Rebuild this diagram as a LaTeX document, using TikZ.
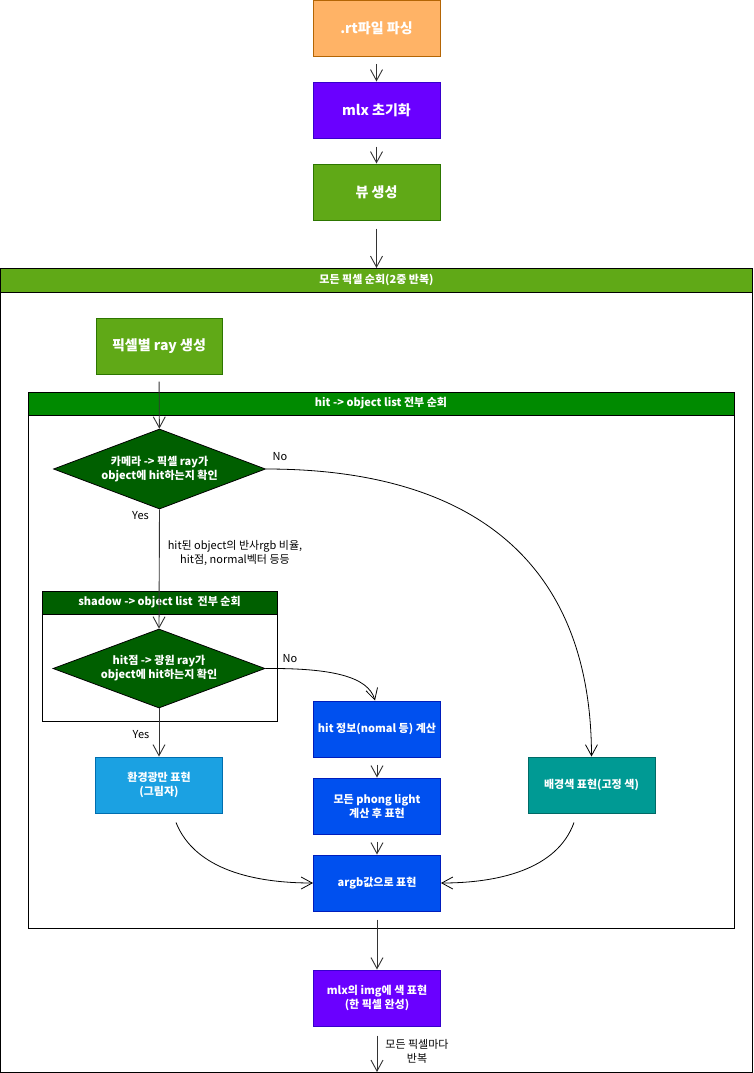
\documentclass[tikz,border=0pt]{standalone}
\usepackage{fontspec}
\setmainfont{Noto Sans CJK KR}
\usetikzlibrary{arrows.meta,shapes.geometric,calc}
\definecolor{cOrange}{HTML}{FFB366}
\definecolor{cOrangeB}{HTML}{B46504}
\definecolor{cPurple}{HTML}{6A00FF}
\definecolor{cPurpleB}{HTML}{3700CC}
\definecolor{cGreen}{HTML}{60A917}
\definecolor{cGreenB}{HTML}{2D7600}
\definecolor{cDGreen}{HTML}{008A00}
\definecolor{cDDGreen}{HTML}{005F00}
\definecolor{cLBlue}{HTML}{1BA1E2}
\definecolor{cLBlueB}{HTML}{006EAF}
\definecolor{cBlue}{HTML}{0050EF}
\definecolor{cBlueB}{HTML}{001DBC}
\definecolor{cTeal}{HTML}{009A94}
\definecolor{cTealB}{HTML}{006A66}
\definecolor{cEdge}{HTML}{333333}
\tikzset{
  box/.style={draw=#1B, fill=#1, text=white, font=\bfseries\fontsize{11}{14}\selectfont,
    minimum width=127pt, minimum height=56pt, inner sep=2pt, align=center, line width=1pt},
  bigbox/.style={box=#1, font=\bfseries\fontsize{14}{17}\selectfont},
  decision/.style={diamond, draw=black, fill=cDDGreen, text=white, aspect=2.65,
    font=\bfseries\fontsize{11}{14}\selectfont, align=center, inner sep=0pt,
    minimum width=212pt, minimum height=80pt, line width=0.8pt},
  hdrtext/.style={text=white, font=\bfseries\fontsize{11}{13}\selectfont},
  lbl/.style={font=\fontsize{11}{14}\selectfont, text=black, align=center, inner sep=1pt},
  conn/.style={draw=cEdge, line width=0.9pt, -{Straight Barb[length=11pt,width=12pt]}},
  curv/.style={draw=black, line width=0.8pt, -{Straight Barb[length=11pt,width=12pt]}},
}
\begin{document}
\begin{tikzpicture}[x=1pt,y=-1pt]
\useasboundingbox (0,0) rectangle (754,1073);
% outer container
\draw[line width=1pt, fill=white] (0.5,268) rectangle (752.5,1072);
\draw[line width=1pt, draw=black, fill=cGreen] (0.5,268) rectangle (752.5,292);
\node[hdrtext] (outerhdr) at (376.5,280) {모든 픽셀 순회(2중 반복)};
% inner container
\draw[line width=1pt, draw=black] (28,392) rectangle (734,928);
\draw[line width=1pt, draw=black, fill=cDGreen] (28,392) rectangle (734,415);
\node[hdrtext] (innerhdr) at (381,403.5) {hit -> object list 전부 순회};
% shadow container
\draw[line width=1pt, draw=black] (42,591) rectangle (277,721);
\draw[line width=1pt, draw=black, fill=cDDGreen] (42,591) rectangle (277,614);
\node[hdrtext] (shadowhdr) at (159.5,602.5) {shadow -> object list~~전부 순회};

% top chain
\node[bigbox=cOrange, draw=cOrangeB] (parse) at (376.5,28.5) {.rt파일 파싱};
\node[bigbox=cPurple] (mlx) at (376.5,110) {mlx 초기화};
\node[bigbox=cGreen] (view) at (376.5,192) {뷰 생성};
\coordinate (outertop) at (376.5,268);

\node[bigbox=cGreen, minimum width=126pt] (ray) at (159,346) {픽셀별 ray 생성};

\node[decision] (d1) at (159.5,469) {카메라 -> 픽셀 ray가\\object에 hit하는지 확인};
\node[decision, minimum height=79pt] (d2) at (159,668.5) {hit점 -> 광원 ray가\\object에 hit하는지 확인};

\node[box=cBlue] (hit) at (377,729) {hit 정보(nomal 등) 계산};
\node[box=cBlue] (phong) at (377,806) {모든 phong light\\계산 후 표현};
\node[box=cBlue] (argb) at (377,883) {argb값으로 표현};
\node[box=cLBlue] (env) at (159,785) {환경광만 표현\\(그림자)};
\node[box=cTeal] (bg) at (591.5,785) {배경색 표현(고정 색)};
\node[box=cPurple] (mlx2) at (377,998) {mlx의 img에 색 표현\\(한 픽셀 완성)};
\coordinate (outerbot) at (377,1072);

% connectors
\draw[conn, shorten <=7pt] (parse) -- (mlx);
\draw[conn, shorten <=8pt] (mlx) -- (view);
\draw[conn, shorten <=8pt] (view) -- (outertop);
\draw[conn, shorten <=7pt] (ray) -- (d1);
\draw[conn] (d1.south) -- (d2.north);
\node[lbl, anchor=east] (yes1) at (150,516) {Yes};
\node[lbl] (info) at (235,553) {hit된 object의 반사rgb 비율,\\hit점, normal벡터 등등};
\draw[curv] (d1.east) .. controls (470,469) and (591,560) .. (bg.north);
\node[lbl] (no1) at (280,457) {No};
\draw[conn] (d2.south) -- (env.north);
\node[lbl] (yes2) at (141,735) {Yes};
\draw[curv] (d2.east) .. controls (330,668) and (368,676) .. ($(hit.north)+(-2,0)$);
\node[lbl] (no2) at (290,659) {No};
\draw[conn, shorten <=7pt] (hit) -- (phong);
\draw[conn, shorten <=7pt] (phong) -- (argb);
\coordinate (envout) at ($(env.south)+(17,9)$);
\coordinate (bgout) at ($(bg.south)+(-17.5,9)$);
\draw[curv] (envout) .. controls (195,870) and (255,883) .. (argb.west);
\draw[curv] (bgout) .. controls (557,870) and (497,883) .. (argb.east);
\draw[conn, shorten <=8pt] (argb) -- (mlx2);
\draw[conn, shorten <=9pt] (mlx2) -- (outerbot);
\node[lbl] (rep) at (417,1051) {모든 픽셀마다\\반복};
\end{tikzpicture}
\end{document}
